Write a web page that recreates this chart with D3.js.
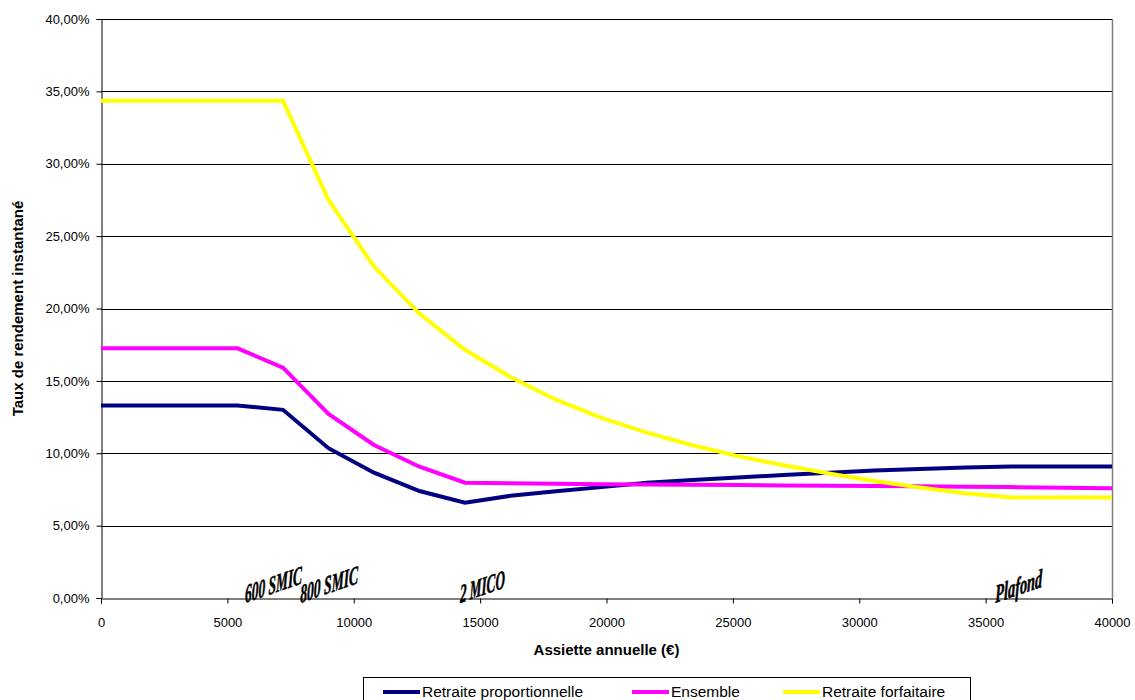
<!DOCTYPE html>
<html>
<head>
<meta charset="utf-8">
<script src="https://cdn.jsdelivr.net/npm/d3@7"></script>
<style>
  html, body { margin: 0; padding: 0; background: #fff; }
  svg { display: block; }
</style>
</head>
<body>
<svg id="chart" width="1135" height="700"></svg>
<script>
// ---- Data ----
const assiette = [0, 1800, 3600, 5400, 7200, 9000, 10800, 12600, 14400, 16200, 18000, 19800, 21600, 23400, 25200, 27000, 28800, 30600, 32400, 34200, 36000, 40000];
const proportionnelle = [13.3, 13.3, 13.3, 13.3, 13.0, 10.35, 8.66, 7.39, 6.59, 7.06, 7.38, 7.66, 7.96, 8.15, 8.32, 8.5, 8.66, 8.8, 8.92, 9.02, 9.08, 9.08];
const ensemble = [17.25, 17.25, 17.25, 17.25, 15.91, 12.71, 10.57, 9.07, 7.97, 7.93, 7.89, 7.86, 7.84, 7.82, 7.8, 7.78, 7.76, 7.74, 7.72, 7.69, 7.66, 7.58];
const forfaitaire = [34.35, 34.35, 34.35, 34.35, 34.35, 27.5, 22.9, 19.65, 17.15, 15.27, 13.7, 12.45, 11.42, 10.55, 9.8, 9.17, 8.6, 8.08, 7.63, 7.23, 6.95, 6.95];
const seriesNames = ["Retraite proportionnelle", "Ensemble", "Retraite forfaitaire"];
const seriesColors = ["#000080", "#FF00FF", "#FFFF00"];
const xTicks = [0, 5000, 10000, 15000, 20000, 25000, 30000, 35000, 40000];
const yTicks = [0, 5, 10, 15, 20, 25, 30, 35, 40];
const annotLabels = ["600 SMIC", "800 SMIC", "2 MICO", "Plafond"];
const annotX = [5700, 7880, 14200, 35380];
const annotWidth = [57, 58, 45, 47];
const xTitle = "Assiette annuelle (€)";
const yTitle = "Taux de rendement instantané";

(function () {
  // ---- Layout ----
  const svg = d3.select("#chart");
  const pLeft = 101, pRight = 1112, pTop = 19, pBottom = 598;
  const x = d3.scaleLinear().domain([0, 40000]).range([pLeft, pRight]);
  const y = d3.scaleLinear().domain([0, 40]).range([pBottom, pTop]);
  const fmt = v => d3.format(".2f")(v).replace(".", ",") + "%";
  const sans = "Liberation Sans, Arial, sans-serif";

  // gridlines
  svg.append("g").selectAll("line").data(yTicks.filter(d => d > 0)).join("line")
    .attr("x1", pLeft).attr("x2", pRight)
    .attr("y1", d => Math.round(y(d)) + 0.5).attr("y2", d => Math.round(y(d)) + 0.5)
    .attr("stroke", "#000").attr("stroke-width", 1).attr("shape-rendering", "crispEdges");

  // right border
  svg.append("line").attr("x1", pRight + 0.5).attr("x2", pRight + 0.5).attr("y1", pTop).attr("y2", pBottom)
    .attr("stroke", "#808080").attr("stroke-width", 1.5);

  // y axis
  const yAxis = svg.append("g").attr("transform", `translate(${pLeft + 0.5},0)`)
    .call(d3.axisLeft(y).tickValues(yTicks).tickFormat(fmt).tickSize(5).tickPadding(7));
  yAxis.select(".domain").attr("stroke", "#000");
  yAxis.selectAll("text").attr("font-family", sans).attr("font-size", 13).attr("fill", "#000");

  // x axis
  const xAxis = svg.append("g").attr("transform", `translate(0,${pBottom + 0.5})`)
    .call(d3.axisBottom(x).tickValues(xTicks).tickFormat(d3.format("d")).tickSize(5).tickPadding(14));
  xAxis.select(".domain").attr("stroke", "#000");
  xAxis.selectAll("text").attr("font-family", sans).attr("font-size", 13).attr("fill", "#000");

  // lines
  const allSeries = [proportionnelle, ensemble, forfaitaire];
  const line = d3.line().x((d, i) => x(assiette[i])).y(d => y(d));
  svg.append("g").selectAll("path").data(allSeries).join("path")
    .attr("d", d => line(d))
    .attr("fill", "none")
    .attr("stroke", (d, i) => seriesColors[i])
    .attr("stroke-width", 4)
    .attr("stroke-linejoin", "miter");

  // annotations (slanted WordArt-like)
  svg.append("g").selectAll("text").data(annotLabels).join("text")
    .attr("transform", (d, i) => `translate(${x(annotX[i])},${y(0) + 5}) skewY(-19)`)
    .attr("font-family", "Liberation Serif, Times New Roman, serif")
    .attr("font-style", "italic").attr("font-weight", "bold")
    .attr("font-size", 26)
    .attr("textLength", (d, i) => annotWidth[i])
    .attr("lengthAdjust", "spacingAndGlyphs")
    .attr("fill", "#000").attr("stroke", "#000").attr("stroke-width", 0.6)
    .text(d => d);

  // axis titles
  svg.append("text").attr("x", (pLeft + pRight) / 2).attr("y", 655)
    .attr("text-anchor", "middle")
    .attr("font-family", sans).attr("font-size", 15).attr("font-weight", "bold")
    .text(xTitle);
  svg.append("text").attr("transform", `translate(23,${(pTop + pBottom) / 2}) rotate(-90)`)
    .attr("text-anchor", "middle")
    .attr("font-family", sans).attr("font-size", 15).attr("font-weight", "bold")
    .text(yTitle);

  // legend
  const legend = svg.append("g");
  legend.append("rect").attr("x", 363.5).attr("y", 677.5).attr("width", 607).attr("height", 40)
    .attr("fill", "#fff").attr("stroke", "#000").attr("stroke-width", 1);
  const legX = [383, 632, 783];
  const legItem = legend.selectAll("g.item").data(seriesNames).join("g").attr("class", "item")
    .attr("transform", (d, i) => `translate(${legX[i]},0)`);
  legItem.append("line").attr("x1", 0).attr("x2", 37).attr("y1", 692).attr("y2", 692)
    .attr("stroke", (d, i) => seriesColors[i]).attr("stroke-width", 4);
  legItem.append("text").attr("x", 39).attr("y", 697)
    .attr("font-family", sans).attr("font-size", 15.5)
    .attr("fill", "#000")
    .text(d => d);
})();
</script>
</body>
</html>
